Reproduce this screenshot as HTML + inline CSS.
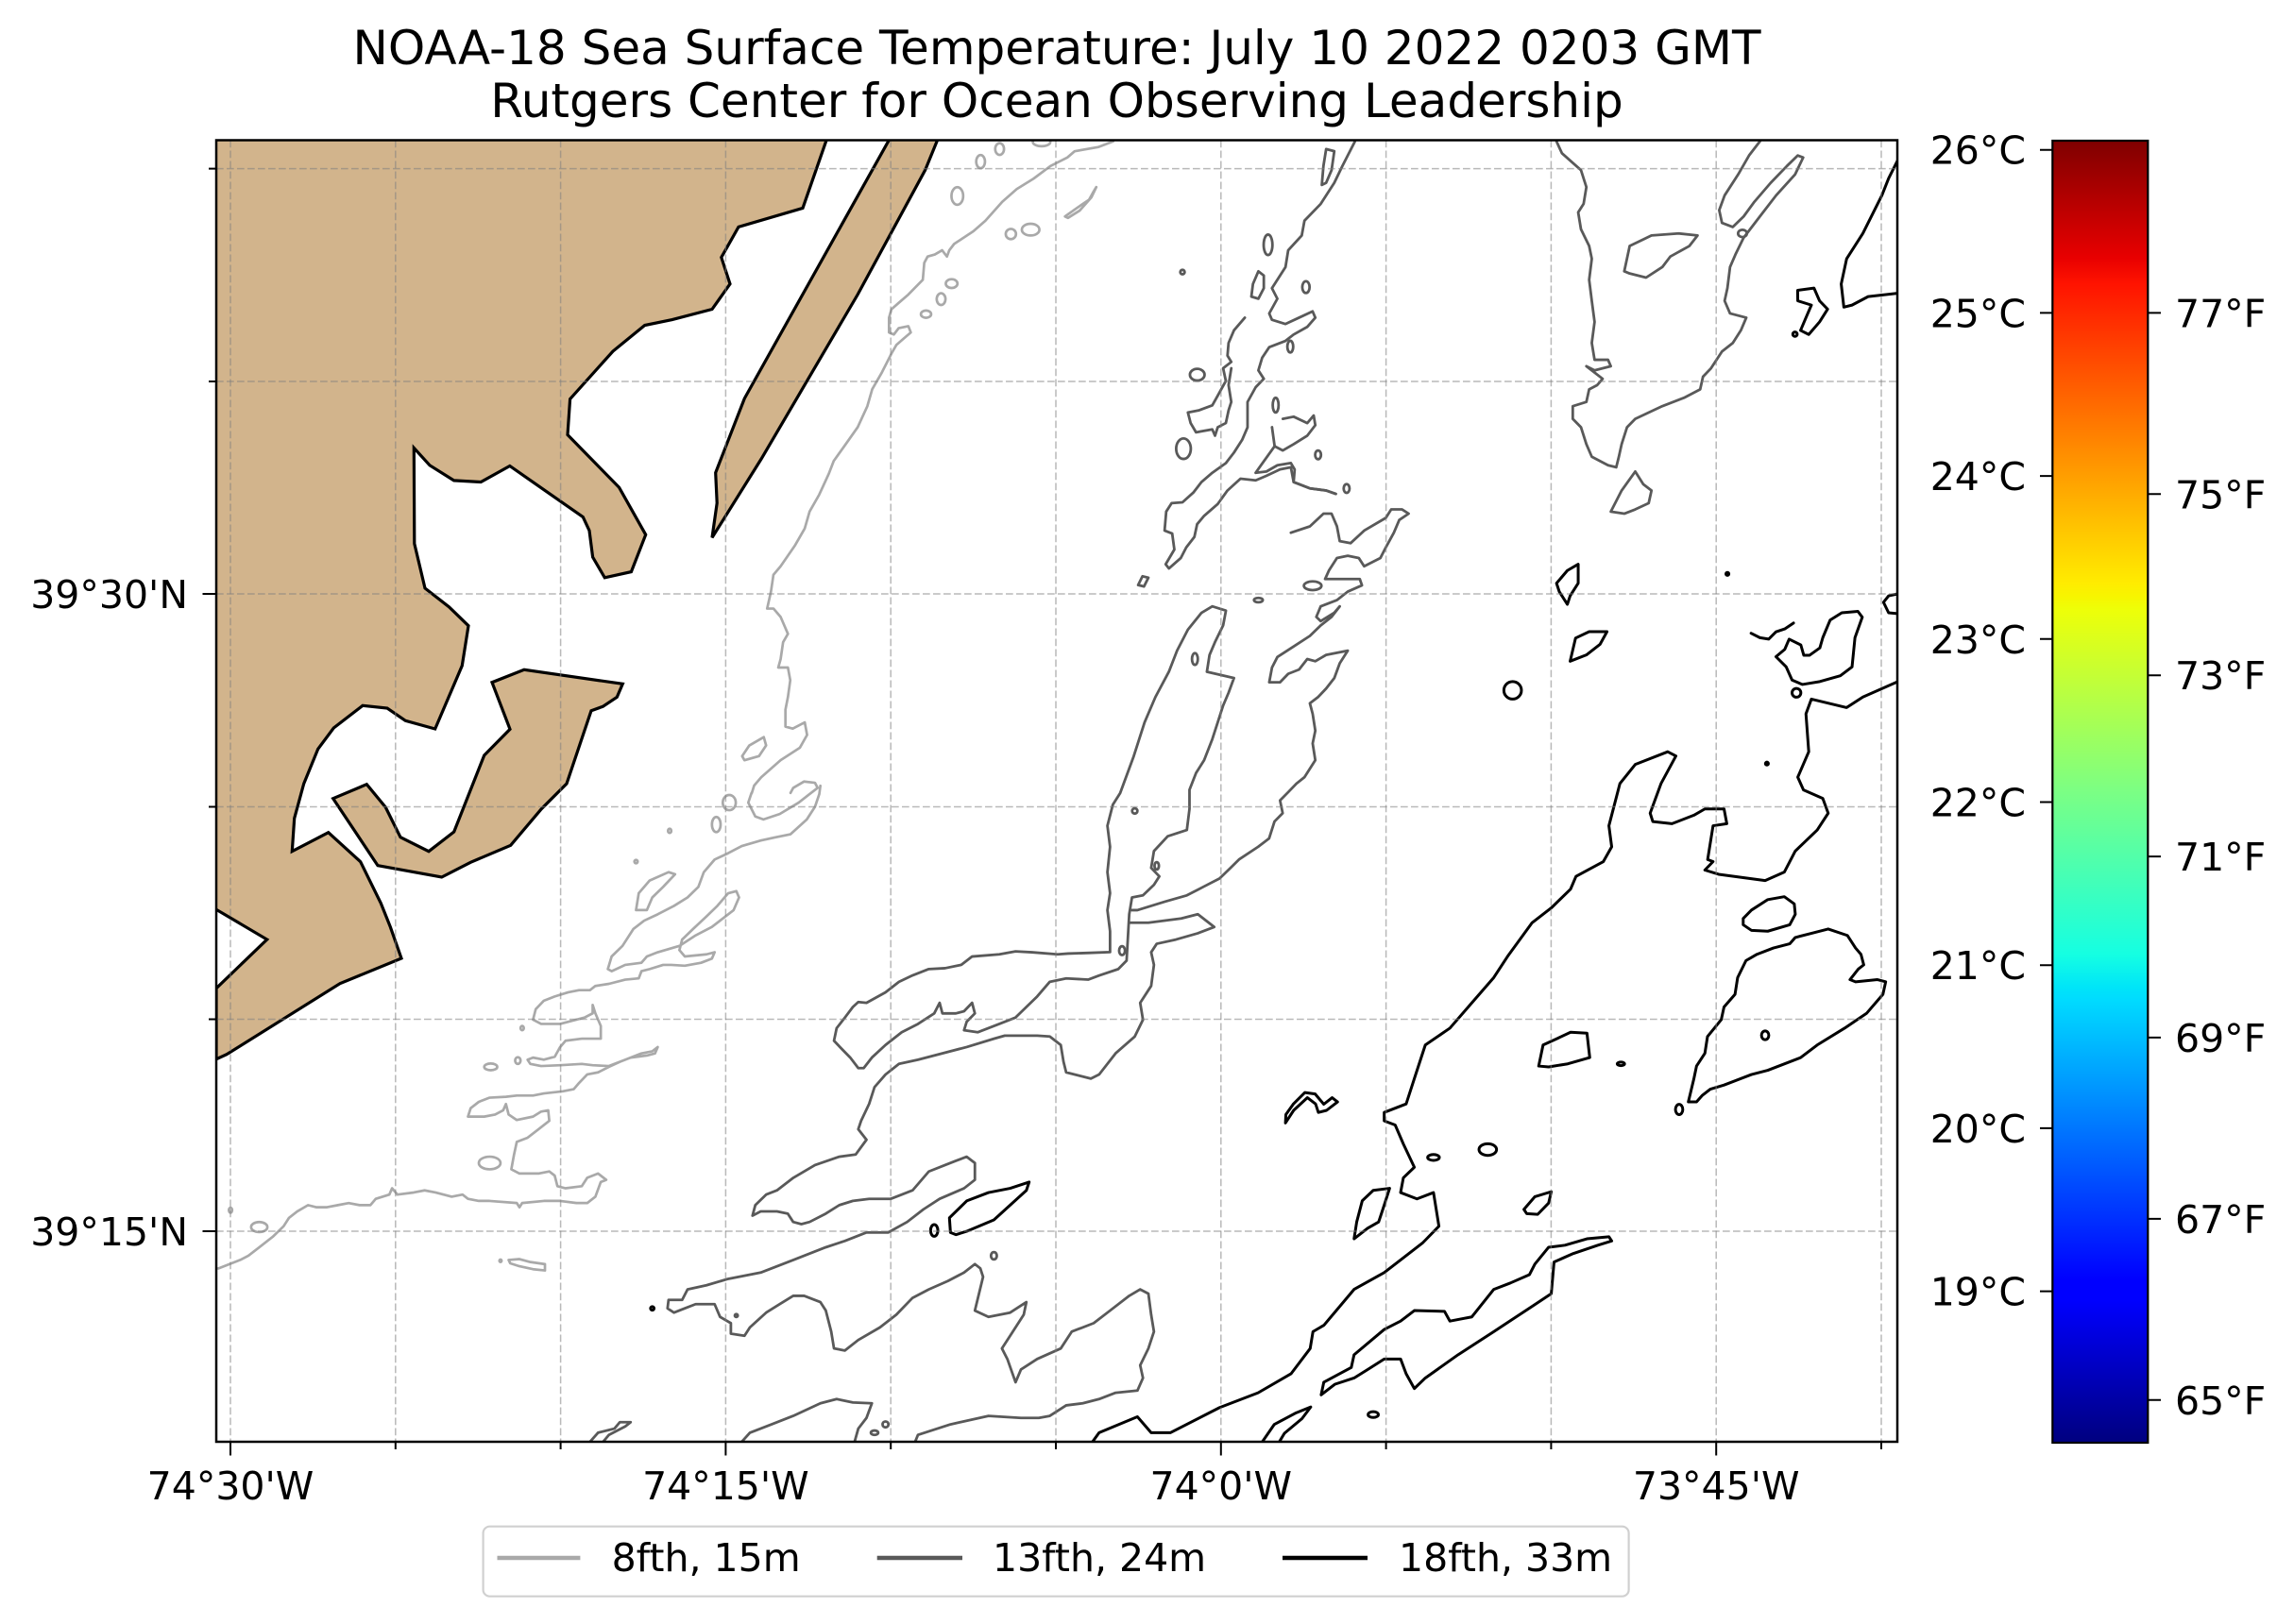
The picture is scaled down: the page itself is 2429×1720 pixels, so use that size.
<!DOCTYPE html>
<html><head><meta charset="utf-8"><style>
html,body{margin:0;padding:0;background:#fff;}
svg{display:block;}
.c path,.c ellipse{vector-effect:non-scaling-stroke;fill:none;stroke-linejoin:round;stroke-linecap:round;}
.lg path,.lg ellipse{stroke:#a9a9a9;stroke-width:2.7;}
.dg path,.dg ellipse{stroke:#595959;stroke-width:2.8;}
.bk path,.bk ellipse{stroke:#000;stroke-width:3;}
text{font-family:"DejaVu Sans","Liberation Sans",sans-serif;fill:#000;}
</style></head><body>
<svg width="2429" height="1720" viewBox="0 0 2429 1720" xmlns="http://www.w3.org/2000/svg">
<defs>
<clipPath id="ax"><rect x="229" y="148.5" width="1780" height="1378.5"/></clipPath>
<linearGradient id="jet" x1="0" y1="1" x2="0" y2="0">
<stop offset="0" stop-color="#00007f"/>
<stop offset="0.11" stop-color="#0000ff"/>
<stop offset="0.125" stop-color="#0000ff"/>
<stop offset="0.34" stop-color="#00dbff"/>
<stop offset="0.35" stop-color="#00e5f8"/>
<stop offset="0.375" stop-color="#15ffe2"/>
<stop offset="0.5" stop-color="#7bff84"/>
<stop offset="0.64" stop-color="#eeff08"/>
<stop offset="0.65" stop-color="#f7f500"/>
<stop offset="0.66" stop-color="#ffec00"/>
<stop offset="0.89" stop-color="#ff1300"/>
<stop offset="0.91" stop-color="#e80000"/>
<stop offset="1" stop-color="#7f0000"/>
</linearGradient>
</defs>
<rect width="2429" height="1720" fill="#fff"/>

<g clip-path="url(#ax)">
<!-- land -->
<g fill="#d2b48c" stroke="#000" stroke-width="3.2" stroke-linejoin="miter">
<path d="M229,140 L878,140 L850,220.4 L782,240.4 L763.8,272.6 L773,300.7 L754,327.5 L711.7,338.6 L682.7,344.5 L649,372 L603.6,422.6 L601,460.5 L655.6,516.3 L683.7,566.3 L668.4,605.6 L640.3,611.8 L627.6,590 L624,561.9 L617.3,547.6 L539.8,493.5 L509.2,510.5 L480.6,508.9 L455,492.8 L438.3,474.4 L438.8,575.8 L450,623 L475.5,642.8 L496,662.7 L489.3,705 L460.7,772 L429.3,763.3 L410,750 L384,747.3 L353.3,771 L336.7,793.3 L321.7,830 L311.7,866.7 L309.3,901.7 L347.7,881.7 L381.7,912.7 L403.3,956.7 L413.3,981.7 L425,1015 L360,1041.7 L240,1116.7 L229,1121.7 L229,1046.7 L282.7,995 L229,963.3 L220,963 L220,140 Z"/>
<path d="M352.7,845.7 L388.3,830.7 L408.3,855 L424,886.7 L454,901.7 L480.7,881 L512.7,800 L540,772.3 L521,722.7 L555,709.3 L659.3,724.3 L653.3,738.3 L638.3,748.3 L626,752.7 L600,830 L573.3,856.7 L540.7,895.3 L498.3,913.3 L467.7,929 L400,916.7 Z"/>
<path d="M946,140 L788.3,422 L757.7,500.7 L759.2,532.8 L754,569.4 L806.1,486 L908.2,311.9 L979.6,180.2 L996,140 Z"/>
</g>

<!-- contours in displayed-coordinate space -->
<g class="c" transform="scale(1.549)">
 <g class="lg">
  <path d="M760.9,96.7 L751,100.5 L734.6,103.4 L729.6,107.7 L718.1,113.5 L706.6,122.1 L695,129.3 L685.1,138 L673.6,150.9 L665.4,158.1 L652.2,166.8 L648.9,171.1 L647.3,175.4 L644,171.1 L639,174 L634.1,175.4 L631.8,179.7 L630.8,191.3 L620.9,201.4 L614.3,207.1 L609.4,211.4 L607.7,217.2 L607.7,227.3 L611,228.7 L614.3,224.4 L620.9,223 L622.6,227.3 L617.6,231.6 L612.7,235.9 L609.4,241.7 L602.8,254.7 L596.2,266.2 L592.9,277.7 L586.3,292.1 L578.1,303.7 L569.9,315.2 L566.6,323.8 L560,338.2 L553.4,349.8 L550.1,361.3 L543.5,372.8 L533.6,387.2 L528.7,393 L527,404.5 L524.4,416.1 L528.7,416.1 L533.6,421.8 L538.6,433.4 L535.3,439.1 L533.6,450.7 L532,456.4 L538.6,456.4 L540.2,465.1 L538.6,476.6 L536.9,485.2 L536.9,496.8 L541.9,498.2 L550.1,493.9 L551.7,502.5 L546.8,511.2 L540.2,515.5 L533.6,519.8 L527,525.6 L520.4,531.4 L515.5,537.1 L513.9,542.3"/>
  <ellipse cx="683.3" cy="101.9" rx="3" ry="4"/>
  <ellipse cx="670.3" cy="110.5" rx="3" ry="4.5"/>
  <ellipse cx="654.4" cy="134" rx="4" ry="6"/>
  <ellipse cx="691" cy="160" rx="3.5" ry="3.5"/>
  <ellipse cx="704.5" cy="157" rx="6" ry="4"/>
  <ellipse cx="650.5" cy="193.9" rx="4" ry="3"/>
  <ellipse cx="643.3" cy="204.5" rx="3" ry="4"/>
  <ellipse cx="633" cy="214.8" rx="3.5" ry="2.5"/>
  <ellipse cx="712" cy="97" rx="6" ry="3"/>
  <path d="M728,148 L736,142.3 L744.5,136.5 L747.7,130.7 L749.4,127.9 L746,135 L738,144 L730,149 Z"/>
  <path d="M507.3,517 L512.2,509.7 L522.1,504 L523.7,509.7 L518.8,517 L508.9,519.8 Z"/>
  <g transform="translate(142,535.8) scale(0.3706,0.2882)">
   <path d="M1003,22 L997,45 L1010,78 L1025,85 L1055,72 L1090,45 L1110,25 L1125,10 L1120,-2 L1100,-5 L1080,10 L1075,22"/>
   <path d="M1130,5 L1128,25 L1120,55 L1105,85 L1075,120 L1045,128 L1020,135 L985,148 L960,165 L935,180 L915,210 L905,245 L885,270 L860,290 L830,310 L805,325 L785,345 L765,385 L745,410 L738,440 L745,445 L770,430 L800,425 L810,410 L830,400 L870,385 L900,360 L930,340 L950,320 L970,300 L980,270 L975,255 L960,260 L940,290 L920,315 L895,345 L875,370 L870,395 L880,410 L920,405 L935,400 L930,415 L910,425 L880,432 L855,430 L840,430 L815,440 L800,445 L795,462 L770,465 L740,475 L715,480 L705,490 L685,490 L665,495 L640,505 L620,515 L605,535 L600,560 L615,570 L650,570 L695,555 L710,545 L710,525 L715,545 L725,575 L725,605 L690,605 L660,610 L650,625 L640,648 L620,655 L600,650 L590,655 L595,665 L615,670 L650,668 L690,665 L710,668 L740,670 L770,655 L800,640 L820,635 L830,625 L825,640 L810,645 L780,650 L760,660 L740,672 L720,685 L700,690 L685,710 L675,725 L655,730 L620,735 L600,740 L570,740 L550,743 L520,745 L500,755 L485,770 L480,790 L510,790 L530,785 L545,775 L550,760 L555,785 L570,798 L600,790 L615,778 L628,775 L630,800 L610,820 L590,840 L570,850 L565,880 L560,915 L575,925 L610,925 L630,920 L640,930 L645,955 L660,960 L690,955 L700,935 L720,925 L735,940 L725,945 L715,980 L700,995 L680,995 L650,990 L620,990 L580,995 L575,1005 L570,995 L520,990 L500,990 L480,985 L470,975 L450,980 L420,970 L400,965 L380,970 L350,975 L340,960 L335,975 L310,985 L300,1000 L280,1000 L260,995 L240,1000 L220,1005 L200,1005 L185,1000 L165,1015 L150,1030 L140,1050 L120,1075 L110,1085 L95,1100 L75,1120 L60,1130 L40,1140 L20,1150 L-20,1152"/>
   <ellipse cx="962" cy="45" rx="12" ry="18"/>
   <ellipse cx="938" cy="97" rx="8" ry="18"/>
   <ellipse cx="852" cy="112" rx="3" ry="5"/>
   <ellipse cx="790" cy="185" rx="3" ry="4"/>
   <path d="M790,300 L795,260 L815,230 L850,210 L862,215 L840,245 L820,270 L810,300 Z"/>
   <ellipse cx="580" cy="580" rx="3" ry="5"/>
   <ellipse cx="522" cy="672" rx="12" ry="8"/>
   <ellipse cx="572" cy="657" rx="5" ry="8"/>
   <ellipse cx="520" cy="900" rx="20" ry="15"/>
   <ellipse cx="42" cy="1012" rx="3" ry="6"/>
   <ellipse cx="95" cy="1052" rx="15" ry="12"/>
   <path d="M555,1130 L575,1128 L595,1135 L622,1140 L622,1155 L600,1152 L575,1145 L558,1138 Z"/>
   <ellipse cx="540" cy="1132" rx="2" ry="3"/>
  </g>
 </g>

 <g class="dg">
  <path d="M771.9,625.1 L773.8,613.6 L781.3,612.2 L788.8,605 L792.5,599.2 L786.9,593.4 L788.8,581.9 L798.2,571.8 L811.3,567.5 L813.1,553.1 L813.1,540 L817.6,528.5 L823.1,519.8 L828.7,505.4 L832.4,493.9 L836.1,482.4 L839.8,473.7 L843.5,463.6 L825,459.3 L826.8,447.8 L830.5,439.1 L836.1,427.6 L838,417.5 L828.7,414.6 L821.3,419 L812,430.5 L804.6,444.9 L799,459.3 L789.8,476.6 L782.4,493.9 L775,517 L765.7,542.3 L760.7,550.2 L757,564.6 L758.8,579 L757,596.3 L758.8,610.7 L757,622.3 L758.8,636.7 L758.8,651 L745,651.5 L730,652 L723,652.5 L705.3,651.1 L694.2,650.5 L683.1,652.5 L664.5,654 L657.1,659.7 L646,662 L634.9,662.6 L623.8,666.9 L614.5,671.3 L605.3,678.5 L592.3,685.7 L586.7,685.1 L583,688.5 L577.5,695.8 L571.9,703 L570.1,711.6 L575.6,717.4 L581.2,723.1 L586.7,730.3 L590.4,730.3 L596,723.1 L605.3,714.5 L616.4,705.8 L627.5,700.1 L638.6,692.9 L642.3,685.7 L644.2,692.9 L653.4,692.9 L659,691.4 L664.5,685.7 L666.4,692.9 L660.8,698.6 L659,704.4 L668.3,705.8 L683.1,700.1 L694.2,695.7 L701.6,688.5 L709,681.3 L717.6,671.3 L728.8,669 L743.8,669.8 L751.3,667 L764.4,662.6 L770.1,656.8 Z"/>
  <path d="M771.9,630.9 L785,630.9 L807.5,628 L818.8,625.1 L830,633.8 L818.8,638.1 L803.8,642.4 L790.7,645.3 L786.9,651.1 L788.8,659.7 L786.9,674.1 L779.4,685.7 L781.3,697.2 L775.7,708.7 L762.6,720.2 L751.3,734.7 L745.7,737.5 L728.8,733.2 L727,726 L725.1,714.5 L717.6,708.7 L709,708.1 L686.8,708.1 L679.4,710.2 L660.8,715.9 L644.2,720.2 L627.5,724.6 L614.5,727.4 L605.3,734.7 L597.8,743.3 L594.1,754.8 L588.6,766.4 L586.7,772.1 L592.3,779.3 L584.9,789.4 L573.7,790.9 L557.1,796.6 L542.3,805.3 L531.1,813.9 L523.7,816.8 L516.3,824 L514.4,831.2 L520,828.3 L531.1,828.3 L538.5,829.8 L542.2,835.5 L547.8,837 L553.4,835.5 L564.5,829.8 L573.7,824 L583,821.1 L594.1,819.7 L608.9,819.7 L616.4,816.8 L623.8,813.9 L634.9,801 L646,796.6 L653.4,793.7 L660.8,790.9 L666.4,795.2 L666.4,806.7 L659,812.5 L642.3,819.7 L631.2,826.9 L620.1,835.5 L607.1,842.7 L592.3,842.7 L577.5,848.5 L564.5,852.8 L542.3,861.5 L520,870.1 L497.8,874.4 L482.9,878.8 L470,881.6 L466.3,888.8 L457,888.8 L456.3,894.6 L460.7,897.5 L468.1,894.6 L475.5,891.7 L488.5,891.7 L492.2,900.4 L499.6,904.7 L499.6,911.9 L508.9,913.3 L512.6,907.6 L523.7,897.5 L533,891.7 L542.2,886 L549.7,886 L560.8,890.3 L564.5,896.1 L568.2,910.5 L570.1,922 L577.5,923.4 L586.7,916.2 L601.5,907.6 L612.7,898.9 L623.8,887.4 L634.9,881.6 L647.9,875.9 L659,870.1 L666.4,864.3 L670.1,867.2 L672,873 L666.4,896.1 L675.7,900.4 L690.5,897.5 L701.6,890.3 L699.8,898.9 L690.5,913.3 L684.9,922 L688.6,929.2 L694.2,945.1 L697.9,936.4 L709,929.2 L725.1,922 L732.6,910.5 L747.6,904.7 L758.8,896.1 L771.9,886 L779.4,881.6 L785,884.5 L786.9,898.9 L788.8,910.5 L785,922 L779.4,933.5 L781.3,942.2 L777.5,950.8 L762.6,952.3 L751.3,956.6 L740.1,959.5 L728.8,960.9 L717.6,968.1 L710.1,969.5 L697.9,969.5 L675.7,968.1 L649.7,973.9 L627.5,981.1 L623.8,990"/>
  <path d="M503.3,990 L512.6,979.6 L527.4,973.9 L542.2,968.1 L560.8,959.5 L571.9,956.6 L583,958.9 L596,959.5 L592.3,969.5 L586.7,976.8 L583,990"/>
  <path d="M399.6,990 L408.8,979.6 L420,976.8 L423.7,972.4 L431.1,972.4 L427.4,975.3 L416.2,981.1 L408.8,990"/>
  <ellipse cx="597.8" cy="979.6" rx="2.5" ry="1.5"/>
  <ellipse cx="605.3" cy="973.9" rx="2" ry="2"/>
  <ellipse cx="679.4" cy="858.6" rx="2" ry="2.5"/>
  <ellipse cx="503.3" cy="899.5" rx="1" ry="1"/>
  <path d="M882.4,364.2 L895.4,359.9 L904.7,351.2 L910.2,351.2 L913.9,359.9 L915.8,370 L923.2,371.4 L932.5,362.8 L947.3,354.1 L951,348.3 L958.4,348.3 L962.9,351.2 L956.5,355.5 L952.8,364.2 L947.3,374.3 L943.6,381.5 L932.5,387.2 L928.8,381.5 L921.3,380 L913.9,381.5 L908.4,390.1 L905.8,395.9 L917.6,395.9 L929.5,395.9 L931,400.2 L921.3,404.5 L913.9,410.3 L902.8,414.6 L899.8,421.8 L902.8,424.7 L912.1,418.9 L915.8,414.6 L910.2,421.8 L902.8,427.6 L895.4,434.8 L884.3,442 L873.2,449.2 L869.5,456.4 L867.6,466.5 L875,466.5 L880.6,460.7 L888,457.8 L893.6,450.6 L899.1,452.1 L906.5,447.8 L921.3,444.9 L915.8,453.5 L912.1,463.6 L906.5,470.8 L901,476.6 L895.4,480.9 L897.3,488.1 L899.1,499.6 L897.3,508.3 L899.1,519.8 L891.7,531.4 L886.2,535.8 L880.6,541.6 L875,547.3 L876.8,556 L871.2,561.7 L867.5,573.3 L860,579 L846.9,587.7 L841.2,593.4 L833.7,600.6 L822.5,606.4 L811.3,612.2 L796.3,616.5 L786.9,619.4 L777.5,622.3 L773.8,622.3"/>
  <path d="M869.5,292.1 L871.3,305.1 L862,318.1 L858.3,323.3 L865.7,322.4 L873.2,318.1 L882.4,316.6 L885,321 L884.3,329.6 L895.4,333.9 L906.5,335.4 L913,337.7"/>
  <path d="M876.9,286.4 L884.3,284.9 L893.6,289.3 L898,284.1 L899.1,290.7 L893.6,297.9 L884.3,303.7 L876.9,308 L871.3,305.1"/>
  <path d="M1064,96.7 L1067.7,104.8 L1080.7,116.3 L1084.4,127.9 L1082.5,139.4 L1078.8,145.2 L1080.7,156.7 L1086.3,168.2 L1088.1,176.9 L1086.3,191.3 L1088.1,205.7 L1090,220.1 L1088.1,234.5 L1090,246 L1099.2,246 L1101.1,250.4 L1090,253.2 L1084.4,250.4 L1095.5,259 L1091.8,263.3 L1086.3,266.2 L1084.4,274.8 L1075.1,277.7 L1075.1,286.4 L1080.7,292.1 L1084.4,303.7 L1088.1,312.3 L1099.2,318.1 L1104.8,319.5 L1106.6,312.3 L1108.5,303.7 L1112.2,292.1 L1117.8,286.4 L1136.3,277.7 L1151.1,272 L1162.2,266.2 L1164.1,257.6 L1169.6,251.8 L1177.1,240.3 L1184.5,234.5 L1190,225.9 L1193.7,217.2 L1182.6,214.3 L1178.9,205.7 L1180.8,197 L1182.6,182.6 L1186.3,174 L1191.9,162.5 L1203,148 L1214.1,133.6 L1227.1,119.2 L1232.6,107.7 L1228.9,106.3 L1221.5,113.5 L1210.4,125 L1199.3,137.9 L1191.9,148 L1184.5,155.2 L1177.1,152.4 L1175.2,143.7 L1178.9,133.6 L1188.2,119.2 L1195.6,106.3 L1203,96.7"/>
  <path d="M1110.3,185.5 L1114,168.2 L1128.9,161 L1147.4,159.6 L1160.4,161 L1154.8,168.2 L1141.8,175.4 L1136.3,182.6 L1125.2,189.8 L1114,187 Z"/>
  <ellipse cx="1191.1" cy="159.6" rx="3" ry="2.5"/>
  <path d="M1101.1,349.8 L1108.5,335.4 L1117.8,322.4 L1123.3,331.1 L1128.9,335.4 L1127,344 L1117.8,348.3 L1110.3,351.2 Z"/>
  <ellipse cx="775.7" cy="554.5" rx="1.8" ry="1.8"/>
  <ellipse cx="790.7" cy="592" rx="1.5" ry="2.5"/>
  <ellipse cx="767" cy="650" rx="2" ry="3"/>
  <ellipse cx="818.4" cy="256.2" rx="5" ry="4"/>
  <ellipse cx="809" cy="306.8" rx="5" ry="7"/>
  <ellipse cx="866.8" cy="167.4" rx="3" ry="7"/>
  <ellipse cx="892.7" cy="196.3" rx="2.5" ry="4"/>
  <ellipse cx="882" cy="237" rx="2" ry="4"/>
  <ellipse cx="901" cy="311" rx="2" ry="3"/>
  <ellipse cx="920.5" cy="334" rx="2" ry="3"/>
  <ellipse cx="897.3" cy="400.5" rx="6" ry="3"/>
  <ellipse cx="860.2" cy="410.3" rx="3" ry="1.5"/>
  <ellipse cx="816.8" cy="450.6" rx="2" ry="4"/>
  <ellipse cx="808.3" cy="186" rx="1.5" ry="1.5"/>
  <ellipse cx="872" cy="277" rx="2" ry="5"/>
  <path d="M778,400 L781,394 L785,395 L782,401 Z"/>
  <g transform="translate(710.1,90.4) scale(0.3706,0.2882)">
   <path d="M583,22 L560,80 L545,120 L520,170 L490,210 L485,245 L460,280 L455,320 L430,370 L440,395 L425,430 L430,445 L455,455 L480,440 L505,425 L510,440 L495,462 L470,480 L455,495 L425,510 L412,535 L405,565 L415,585 L400,605 L385,640 L385,700 L375,730 L360,760 L345,785 L320,808 L300,830 L285,855 L265,878 L245,880 L235,900 L232,945 L246,952 L250,990 L234,1025 L240,1035 L262,1010 L272,985 L287,960 L292,930 L305,910 L330,882 L348,850 L372,822 L400,826 L420,815 L445,800 L465,795 L470,830 L500,845 L530,850 L548,858"/>
   <path d="M380,440 L360,470 L350,500 L348,530 L355,545 L340,560 L345,590 L330,625 L320,648 L295,660 L275,665 L280,690 L290,712 L320,705 L325,720 L330,700 L345,690 L350,660 L355,640 L350,600 L355,560"/>
   <path d="M405,330 L395,360 L392,390 L405,395 L415,370 L415,340 Z"/>
   <path d="M530,40 L545,45 L540,90 L530,120 L522,125 L525,80 Z"/>
  </g>
 </g>

 <g class="bk">
  <path d="M743.8,990 L751.3,979.6 L777.5,968.7 L786.9,979.6 L800,979.6 L833.7,962.4 L860,952.3 L882.5,939.3 L895.6,922 L897.5,910.5 L905,906.1 L925.6,881.6 L946.2,870.1 L957.4,861.5 L972.4,849.9 L983.6,838.4 L979.9,815.4 L968.6,819.7 L957.4,815.4 L959.3,805.3 L966.8,798.1 L959.3,782.2 L953.7,769.2 L946.2,766.4 L946.2,760.6 L961.2,754.8 L966.8,737.5 L974.3,714.5 L991.1,703 L1006.1,685.7 L1021.1,668.4 L1030.5,654 L1047.3,630.9 L1060.4,620.8 L1073.6,607.9 L1077.3,599.2 L1096,589.1 L1101.7,579 L1099.8,564.6 L1107.3,535.8 L1117.8,522.7 L1140,514 L1145.6,516.9 L1135.4,535.8 L1128,556 L1129.8,561.7 L1142.9,563.2 L1157.9,557.4 L1165.4,553.1 L1178.5,553.1 L1180.4,563.2 L1171,564.6 L1167.3,587.7 L1171,589.1 L1165.4,594.9 L1174.8,597.8 L1206.6,602.1 L1219.7,596.3 L1227.2,581.9 L1242.2,567.5 L1249.7,556 L1246,545.9 L1232.8,540.1 L1228.9,531.4 L1236.4,514 L1234.5,488.1 L1238.2,478 L1262.3,483.8 L1273.4,476.6 L1302,464"/>
  <path d="M1302,100 L1291,122 L1286.4,133.6 L1273.4,159.6 L1262.3,176.9 L1258.6,194.2 L1260.4,210 L1266,208.6 L1277,202.8 L1302,200"/>
  <path d="M1302,405 L1291,407.4 L1287.5,411.8 L1291,419 L1302,420"/>
  <path d="M1228.8,198.5 L1240,197 L1243.8,205.7 L1249.3,211.4 L1243.8,220.1 L1236.4,228.7 L1230.8,225.9 L1234.5,217.2 L1238.2,208.6 L1228.9,205.7 Z"/>
  <ellipse cx="1227" cy="228.5" rx="1.5" ry="1.5"/>
  <path d="M1065.9,404.6 L1064,398.8 L1071.4,390.1 L1078.8,385.8 L1078.8,398.8 L1073.3,407.4 L1071.4,413.2 Z"/>
  <path d="M1073.3,452.1 L1077,436.3 L1086.3,431.9 L1098.5,431.9 L1093.7,440.6 L1084.4,447.8 Z"/>
  <ellipse cx="1034" cy="472" rx="6" ry="6"/>
  <path d="M1197,433 L1203,436 L1209,437 L1214,432 L1220,430 L1226,426"/>
  <path d="M1214,449 L1221,456 L1225,465 L1232,468 L1244,466 L1258,462 L1266,456 L1268,436 L1273,422 L1270,418 L1259,419 L1251,424 L1246,436 L1244,443 L1237,448 L1233,448 L1231,441 L1223,437 L1220,444 Z"/>
  <ellipse cx="1228" cy="473.7" rx="3" ry="3"/>
  <ellipse cx="1180.8" cy="392.4" rx="1" ry="1"/>
  <ellipse cx="1207.8" cy="522.1" rx="1" ry="1"/>
  <path d="M878.7,767.8 L884.3,759.2 L893.7,750.5 L899.3,754.8 L901.2,760.6 L906.8,759.2 L914.3,753.4 L910.6,750.5 L904.9,755 L899,748 L892,747 L884,755 L879,762 Z"/>
  <path d="M1051.8,728.9 L1054.8,714.5 L1064.2,710.2 L1073.6,705.8 L1084.8,706.4 L1086.7,723.1 L1071.7,727.4 L1058.6,729.5 Z"/>
  <ellipse cx="1108" cy="727.4" rx="2.5" ry="1.2"/>
  <ellipse cx="979.9" cy="791.4" rx="4" ry="2"/>
  <ellipse cx="1017" cy="786" rx="6" ry="4"/>
  <path d="M925.6,847 L927.4,835.5 L931.2,821 L938.7,813.9 L949.9,812.5 L946.2,824 L942.4,835.5 L934.9,839.8 Z"/>
  <path d="M1041.7,826.9 L1049.2,818.2 L1060.4,814.8 L1058.6,822.6 L1051.1,830.3 L1043.6,829.8 Z"/>
  <path d="M903.1,953.7 L904.9,945.1 L923.7,935 L925.6,926.3 L946.2,909 L957.4,903.3 L966.8,896.1 L987.4,896.6 L991.1,903.3 L1006.1,900.4 L1021.1,881.6 L1032.3,877.3 L1045.5,871.5 L1049.2,864.3 L1058.6,852.8 L1069.8,851.4 L1084.8,847 L1099.8,845.6 L1101.7,848.5 L1092.3,851.4 L1075.4,857.1 L1062.3,862.9 L1060.4,884.5 L1047.3,893.2 L1021.1,910.5 L996.7,926.3 L974.3,942.2 L966.8,949.4 L961.2,939.3 L957.4,929.2 L946.2,929.2 L934.9,936.4 L925.6,942.2 L912.4,946.5 Z"/>
  <path d="M860,990 L871,974 L886,966 L896,962 L890,970 L878,980 L872,990"/>
  <ellipse cx="938.7" cy="967.2" rx="3.5" ry="2"/>
  <path d="M649.7,842.7 L649,832.7 L660.8,821.1 L675.7,815.4 L690.5,812.5 L703.5,808.2 L701.6,813.9 L690.5,824 L679.4,834.1 L660.8,841.9 L653.4,844.2 Z"/>
  <ellipse cx="638.6" cy="841.3" rx="2.5" ry="4"/>
  <ellipse cx="445.9" cy="894.6" rx="1.2" ry="1.2"/>
  <ellipse cx="1147.8" cy="758.6" rx="2.5" ry="3.5"/>
  <ellipse cx="1206.6" cy="707.9" rx="2.5" ry="3"/>
  <path d="M1154.1,753.4 L1157.9,737.5 L1159.7,728.9 L1165.4,720.2 L1167.2,708.7 L1176.6,697.2 L1178.5,688.5 L1186,679.9 L1187.8,668.4 L1193.5,656.8 L1201,652.5 L1212.2,648.2 L1223.4,645.3 L1227.2,641 L1238.4,638.1 L1249.7,635.2 L1262.8,639.6 L1268.4,648.2 L1272.1,652.5 L1274,659.7 L1270.3,662.6 L1264.6,669.8 L1268.4,671.3 L1283.4,669.8 L1289,671.3 L1287.1,679.9 L1275.9,692.9 L1260.9,703 L1242.2,714.5 L1230.9,723.1 L1208.4,731.8 L1197.2,734.7 L1178.5,741.9 L1169.1,744.7 L1163.5,749.1 L1159.7,753.4 Z"/>
  <path d="M1191.6,628 L1197.2,622.3 L1208.4,615.1 L1219.7,613.1 L1226.5,618 L1227.2,625.1 L1223.4,632.3 L1208.4,636.7 L1197.2,636.1 L1191.6,632.3 Z"/>
 </g>
</g>

<!-- gridlines -->
<g stroke="#808080" stroke-opacity="0.55" stroke-width="1.5" stroke-dasharray="7.7,3.3" fill="none">
<path d="M244,148.5V1527 M418.8,148.5V1527 M593.6,148.5V1527 M768.4,148.5V1527 M943.2,148.5V1527 M1118,148.5V1527 M1292.8,148.5V1527 M1467.6,148.5V1527 M1642.4,148.5V1527 M1817.2,148.5V1527 M1992,148.5V1527"/>
<path d="M229,178.6H2009 M229,404H2009 M229,629H2009 M229,854.5H2009 M229,1079.5H2009 M229,1304H2009"/>
</g>
</g>

<!-- axes frame -->
<rect x="229" y="148.5" width="1780" height="1378.5" fill="none" stroke="#000" stroke-width="2.5"/>

<!-- ticks -->
<g stroke="#000" stroke-width="2">
<path d="M229,178.6H221 M229,404H221 M229,854.5H221 M229,1079.5H221 M229,629H214.5 M229,1304H214.5"/>
<path d="M418.8,1527V1535 M593.6,1527V1535 M943.2,1527V1535 M1118,1527V1535 M1467.6,1527V1535 M1642.4,1527V1535 M1992,1527V1535 M244,1527V1541.5 M768.4,1527V1541.5 M1292.8,1527V1541.5 M1817.2,1527V1541.5"/>
</g>
<g font-size="41">
<text x="199" y="644" text-anchor="end">39°30'N</text>
<text x="199" y="1319" text-anchor="end">39°15'N</text>
<text x="244" y="1588" text-anchor="middle">74°30'W</text>
<text x="768.4" y="1588" text-anchor="middle">74°15'W</text>
<text x="1292.8" y="1588" text-anchor="middle">74°0'W</text>
<text x="1817.2" y="1588" text-anchor="middle">73°45'W</text>
</g>

<!-- colorbar -->
<rect x="2173.3" y="149" width="101" height="1379" fill="url(#jet)" stroke="#000" stroke-width="2.2"/>
<g stroke="#000" stroke-width="2">
<path d="M2173.3,158.7H2160 M2173.3,331.4H2160 M2173.3,504.1H2160 M2173.3,676.8H2160 M2173.3,849.5H2160 M2173.3,1022.2H2160 M2173.3,1194.9H2160 M2173.3,1367.6H2160"/>
<path d="M2274.3,331.4H2288 M2274.3,523.3H2288 M2274.3,715.2H2288 M2274.3,907.1H2288 M2274.3,1098.9H2288 M2274.3,1290.9H2288 M2274.3,1482.8H2288"/>
</g>
<g font-size="41">
<g text-anchor="end">
<text x="2145" y="173.7">26°C</text>
<text x="2145" y="346.4">25°C</text>
<text x="2145" y="519.1">24°C</text>
<text x="2145" y="691.8">23°C</text>
<text x="2145" y="864.5">22°C</text>
<text x="2145" y="1037.2">21°C</text>
<text x="2145" y="1209.9">20°C</text>
<text x="2145" y="1382.6">19°C</text>
</g>
<text x="2303" y="346.4">77°F</text>
<text x="2303" y="538.3">75°F</text>
<text x="2303" y="730.2">73°F</text>
<text x="2303" y="922.1">71°F</text>
<text x="2303" y="1113.9">69°F</text>
<text x="2303" y="1305.9">67°F</text>
<text x="2303" y="1497.8">65°F</text>
</g>

<!-- legend -->
<rect x="511.6" y="1616.7" width="1213" height="74" rx="7" ry="7" fill="#fff" stroke="#d0d0d0" stroke-width="2.2"/>
<g stroke-width="4.5">
<path d="M526.5,1650H614.4" stroke="#a9a9a9"/>
<path d="M928.7,1650H1019" stroke="#595959"/>
<path d="M1358,1650H1448" stroke="#000"/>
</g>
<g font-size="41">
<text x="647.6" y="1664">8fth, 15m</text>
<text x="1051" y="1664">13fth, 24m</text>
<text x="1481" y="1664">18fth, 33m</text>
</g>

<!-- title -->
<g font-size="50" text-anchor="middle">
<text x="1119" y="68">NOAA-18 Sea Surface Temperature: July 10 2022 0203 GMT</text>
<text x="1119" y="124">Rutgers Center for Ocean Observing Leadership</text>
</g>
</svg>
</body></html>
